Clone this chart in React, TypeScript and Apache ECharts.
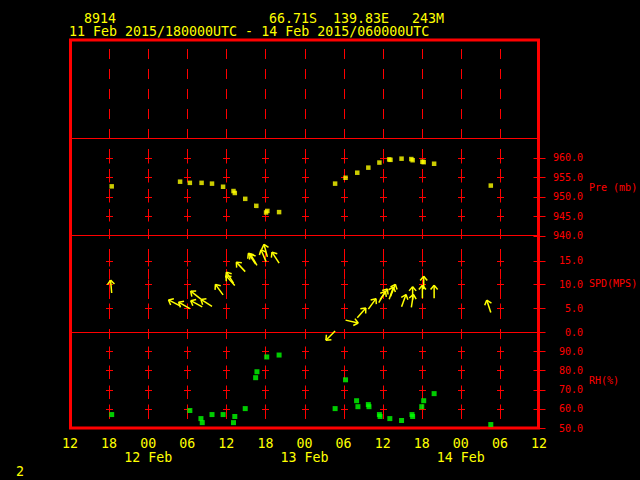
import React, { useEffect, useRef } from "react";
import * as echarts from "echarts";

// time axis: hours since 12Z 11 Feb 2015
const xTicks = [6, 12, 18, 24, 30, 36, 42, 48, 54, 60, 66];
const dayTicks = [12, 36, 60];
const dayLabels = ["12 Feb", "13 Feb", "14 Feb"];

const presTime = [6.4, 16.9, 18.4, 20.2, 21.8, 23.5, 25.1, 25.3, 26.9, 28.6, 30.1, 30.3, 32.1, 40.7, 42.3, 44.1, 45.8, 47.5, 49.0, 49.2, 50.9, 52.4, 52.6, 54.1, 54.3, 55.9, 64.6];
const presVal = [952.6, 953.8, 953.5, 953.5, 953.3, 952.5, 951.4, 950.9, 949.4, 947.6, 945.9, 946.3, 946.0, 953.3, 954.8, 956.1, 957.4, 958.7, 959.5, 959.4, 959.7, 959.6, 959.3, 958.9, 958.8, 958.4, 952.8];

const rhTime = [6.4, 16.9, 18.4, 20.1, 20.3, 21.8, 23.5, 25.1, 25.3, 26.9, 28.5, 28.7, 30.2, 32.1, 40.7, 42.3, 44.0, 44.2, 45.8, 45.9, 47.5, 47.6, 49.1, 50.9, 52.5, 52.6, 54.0, 54.3, 55.9, 64.6];
const rhVal = [57.0, 49.7, 59.1, 54.9, 52.8, 57.0, 57.0, 52.8, 56.0, 60.1, 76.2, 79.3, 87.0, 88.0, 60.1, 75.1, 64.2, 61.1, 62.2, 61.1, 57.0, 56.0, 54.9, 53.9, 57.0, 56.0, 61.1, 64.2, 67.9, 51.8];

const windTime = [6.4, 16.9, 18.4, 20.1, 20.3, 21.8, 23.5, 25.1, 25.3, 26.9, 28.5, 28.7, 30.1, 30.3, 32.1, 40.7, 42.3, 44.1, 45.8, 47.4, 47.6, 49.0, 49.2, 50.9, 52.4, 52.6, 54.1, 54.3, 55.9, 64.6];
const windSpd = [8.2, 5.5, 4.9, 6.9, 5.3, 5.4, 7.8, 10.3, 9.8, 12.7, 14.3, 14.0, 14.8, 15.8, 14.5, 0.2, 2.5, 3.0, 4.8, 6.2, 6.8, 6.9, 7.5, 5.3, 5.2, 6.8, 7.1, 9.0, 7.1, 4.1];
const windDir = [175, 117, 120, 128, 118, 122, 144, 147, 138, 137, 146, 150, 157, 165, 147, 45, 283, 221, 216, 211, 215, 199, 202, 200, 189, 180, 180, 180, 180, 162];

const presTicks = [945, 950, 955, 960];
const windTicks = [5, 10, 15];
const rhTicks = [60, 70, 80, 90];
const presLabelVals = [940, 945, 950, 955, 960];
const windLabelVals = [0, 5, 10, 15];
const rhLabelVals = [50, 60, 70, 80, 90];

const RED = "#ff0000";
const YEL = "#ffff00";
const GRN = "#00ff00";
const MONO = '"DejaVu Sans Mono", "Liberation Mono", monospace';

const crisp = (v: number) => Math.round(v) + 0.5;

const crossData = (levels: number[], edgeLevels: number[]) => {
  const out: number[][] = [];
  levels.forEach((lv) => xTicks.forEach((t) => out.push([t, lv])));
  edgeLevels.forEach((lv) => out.push([72, lv]));
  return out;
};

const crossRender = (params: any, api: any) => {
  const t = api.value(0);
  const v = api.value(1);
  const p = api.coord([t, v]);
  const x = crisp(p[0]);
  const y = crisp(p[1]);
  const style = { stroke: RED, lineWidth: 1 };
  if (t >= 72) {
    return { type: "line", shape: { x1: x - 6, y1: y, x2: x + 6, y2: y }, style };
  }
  return {
    type: "group",
    children: [
      { type: "line", shape: { x1: x, y1: y - 5, x2: x, y2: y + 5 }, style },
      { type: "line", shape: { x1: x - 3.5, y1: y, x2: x + 3.5, y2: y }, style },
    ],
  };
};

const vlineRender = (params: any, api: any) => {
  const t = api.value(0);
  const top = api.coord([t, 1]);
  const bot = api.coord([t, 0]);
  const x = crisp(top[0]);
  return {
    type: "line",
    shape: { x1: x, y1: top[1], x2: x, y2: bot[1] },
    style: { stroke: RED, lineWidth: 1, lineDash: [10, 10] },
  };
};

const arrowRender = (params: any, api: any) => {
  const t = api.value(0);
  const s = api.value(1);
  const d = api.value(2);
  const p = api.coord([t, s]);
  const to = ((d + 180) * Math.PI) / 180;
  const L = 13;
  const hx = p[0] + L * Math.sin(to);
  const hy = p[1] - L * Math.cos(to);
  const back = to + Math.PI;
  const a = (40 * Math.PI) / 180;
  const bl = 5.5;
  const b1x = hx + bl * Math.sin(back + a);
  const b1y = hy - bl * Math.cos(back + a);
  const b2x = hx + bl * Math.sin(back - a);
  const b2y = hy - bl * Math.cos(back - a);
  const style = { stroke: YEL, lineWidth: 1.5 };
  return {
    type: "group",
    children: [
      { type: "line", shape: { x1: p[0], y1: p[1], x2: hx, y2: hy }, style },
      { type: "line", shape: { x1: hx, y1: hy, x2: b1x, y2: b1y }, style },
      { type: "line", shape: { x1: hx, y1: hy, x2: b2x, y2: b2y }, style },
    ],
  };
};

const hourLabel = (v: number) => {
  let s = String((v + 12) % 24).padStart(2, "0");
  const di = dayTicks.indexOf(v);
  if (di >= 0) s += "\n" + dayLabels[di];
  return s;
};

const labelFmt = (vals: number[]) => (v: number) =>
  vals.some((x) => Math.abs(x - v) < 1e-6) ? v.toFixed(1) : "";

export default function App() {
  const ref = useRef<HTMLDivElement>(null);
  useEffect(() => {
    if (!ref.current) return;
    const chart = echarts.init(ref.current, null, { renderer: "svg" });
    const L = 70;
    const R = 101;
    const grids = [
      { left: L, right: R, top: 40, height: 98 },
      { left: L, right: R, top: 138, height: 97.5 },
      { left: L, right: R, top: 235.5, height: 96.5 },
      { left: L, right: R, top: 332, height: 96 },
      { left: L, right: R, top: 49, height: 379 },
    ];
    const hiddenX = (i: number, line: boolean) => ({
      type: "value",
      gridIndex: i,
      min: 0,
      max: 72,
      interval: 6,
      position: "bottom",
      axisLine: { show: line, onZero: false, lineStyle: { color: RED, width: 1 } },
      axisTick: { show: false },
      axisLabel: { show: false },
      splitLine: { show: false },
    });
    const rightY = (i: number, min: number, max: number, interval: number, vals: number[]) => ({
      type: "value",
      gridIndex: i,
      position: "right",
      min,
      max,
      interval,
      axisLine: { show: false },
      axisTick: { show: false },
      splitLine: { show: false },
      axisLabel: {
        color: RED,
        fontSize: 10,
        fontFamily: MONO,
        align: "right",
        margin: 44,
        formatter: labelFmt(vals),
      },
    });
    const option: any = {
      animation: false,
      backgroundColor: "#000",
      grid: grids,
      xAxis: [
        hiddenX(0, true),
        hiddenX(1, true),
        hiddenX(2, true),
        {
          type: "value",
          gridIndex: 3,
          min: 0,
          max: 72,
          interval: 6,
          position: "bottom",
          axisLine: { show: false },
          axisTick: { show: false },
          splitLine: { show: false },
          axisLabel: {
            color: YEL,
            fontSize: 13.3,
            fontFamily: MONO,
            margin: 8,
            lineHeight: 14,
            showMinLabel: true,
            showMaxLabel: true,
            formatter: hourLabel,
          },
        },
        hiddenX(4, false),
      ],
      yAxis: [
        { type: "value", gridIndex: 0, min: 0, max: 1, show: false },
        rightY(1, 940, 965, 5, presLabelVals),
        rightY(2, 0, 20.3, 5, windLabelVals),
        rightY(3, 50, 100, 10, rhLabelVals),
        { type: "value", gridIndex: 4, min: 0, max: 1, show: false },
      ],
      graphic: [
        {
          type: "rect",
          z: 1,
          shape: { x: 70.5, y: 40, width: 468, height: 388 },
          style: { fill: "none", stroke: RED, lineWidth: 3 },
        },
        ...[
          ["8914", 84, 18],
          ["66.71S", 269, 18],
          ["139.83E", 333, 18],
          ["243M", 412, 18],
          ["11 Feb 2015/180000UTC - 14 Feb 2015/060000UTC", 69, 31.5],
          ["2", 16, 471],
        ].map(([t, x, y]) => ({
          type: "text",
          x,
          y,
          style: { text: t, fill: YEL, fontSize: 13.3, fontFamily: MONO, align: "left", verticalAlign: "middle" },
        })),
        ...[
          ["Pre (mb)", 589, 187],
          ["SPD(MPS)", 589, 283.5],
          ["RH(%)", 589, 380.5],
        ].map(([t, x, y]) => ({
          type: "text",
          x,
          y,
          style: { text: t, fill: RED, fontSize: 10, fontFamily: MONO, align: "left", verticalAlign: "middle" },
        })),
      ],
      series: [
        { type: "custom", xAxisIndex: 4, yAxisIndex: 4, renderItem: vlineRender, data: xTicks.map((t) => [t, 0]), silent: true, z: 1 },
        { type: "custom", xAxisIndex: 1, yAxisIndex: 1, renderItem: crossRender, data: crossData(presTicks, presLabelVals), silent: true },
        { type: "custom", xAxisIndex: 2, yAxisIndex: 2, renderItem: crossRender, data: crossData(windTicks, windLabelVals), silent: true },
        { type: "custom", xAxisIndex: 3, yAxisIndex: 3, renderItem: crossRender, data: crossData(rhTicks, rhLabelVals), silent: true },
        {
          type: "scatter",
          xAxisIndex: 1,
          yAxisIndex: 1,
          symbol: "rect",
          symbolSize: 4.5,
          itemStyle: { color: YEL },
          data: presTime.map((t, i) => [t, presVal[i]]),
          z: 3,
        },
        {
          type: "scatter",
          xAxisIndex: 3,
          yAxisIndex: 3,
          symbol: "rect",
          symbolSize: 5,
          itemStyle: { color: GRN },
          data: rhTime.map((t, i) => [t, rhVal[i]]),
          z: 3,
        },
        {
          type: "custom",
          xAxisIndex: 2,
          yAxisIndex: 2,
          renderItem: arrowRender,
          data: windTime.map((t, i) => [t, windSpd[i], windDir[i]]),
          z: 3,
        },
      ],
    };
    chart.setOption(option);
    return () => chart.dispose();
  }, []);
  return (
    <div
      ref={ref}
      style={{ position: "fixed", left: 0, top: 0, width: 640, height: 480, background: "#000" }}
    />
  );
}
